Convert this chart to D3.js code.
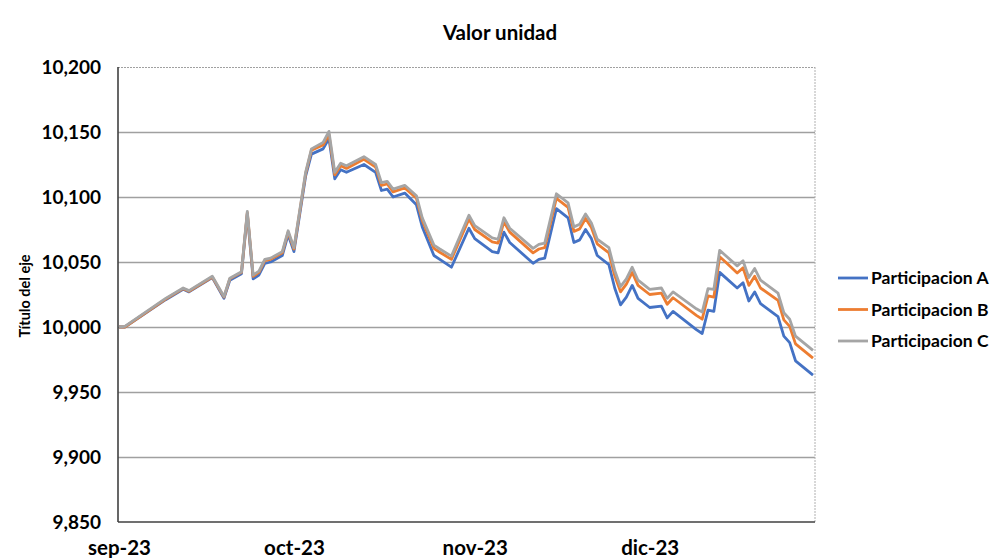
<!DOCTYPE html>
<html><head><meta charset="utf-8">
<script src="https://cdn.jsdelivr.net/npm/d3@7/dist/d3.min.js"></script>
<style>
html,body{margin:0;padding:0;background:#fff;}
svg text{font-family:Lato,"Open Sans",sans-serif;font-weight:700;fill:#000;}
</style></head>
<body>
<svg id="chart" width="991" height="558"></svg>
<script>
const dates = ["2023-09-01","2023-09-02","2023-09-09","2023-09-12","2023-09-13","2023-09-17","2023-09-19","2023-09-20","2023-09-22","2023-09-23",
"2023-09-24","2023-09-25","2023-09-26","2023-09-27","2023-09-29","2023-09-30","2023-10-01","2023-10-03","2023-10-04","2023-10-06",
"2023-10-07","2023-10-08","2023-10-09","2023-10-10","2023-10-13","2023-10-15","2023-10-16","2023-10-17","2023-10-18","2023-10-20",
"2023-10-22","2023-10-23","2023-10-25","2023-10-26","2023-10-28","2023-10-31","2023-11-01","2023-11-04","2023-11-05","2023-11-06",
"2023-11-07","2023-11-11","2023-11-12","2023-11-13","2023-11-15","2023-11-17","2023-11-18","2023-11-19","2023-11-20","2023-11-21",
"2023-11-22","2023-11-24","2023-11-25","2023-11-26","2023-11-27","2023-11-28","2023-11-29","2023-12-01","2023-12-03","2023-12-04",
"2023-12-05","2023-12-09","2023-12-10","2023-12-11","2023-12-12","2023-12-13","2023-12-14","2023-12-16","2023-12-17","2023-12-18",
"2023-12-19","2023-12-20","2023-12-23","2023-12-24","2023-12-25","2023-12-26","2023-12-29"];
const participacionA = [10000,10000,10021,10029,10027,10038,10022,10036,10041,10087,
10037,10040,10049,10050,10055,10071,10058,10116,10133,10137,
10145,10114,10121,10119,10125,10119,10105,10106,10100,10103,
10094,10077,10055,10052,10046,10076,10068,10058,10057,10073,
10065,10049,10052,10053,10091,10084,10065,10067,10075,10068,
10055,10048,10030,10017,10023,10032,10022,10015,10016,10007,
10012,9998,9995,10013,10012,10042,10038,10030,10034,10020,
10027,10018,10008,9993,9988,9974,9963];
const participacionB = [10000,10000,10021.5,10029.5,10027.5,10038.5,10023,10037,10042,10088,
10039,10042,10051,10052,10057,10073,10060,10118,10136,10140,
10148,10117,10124,10122,10129,10123,10109,10110,10104,10107,
10099,10082,10060.5,10057.5,10052,10083,10075,10065.5,10064.5,10081,
10073,10057,10060,10061,10099,10092,10073.5,10075.5,10083.5,10076.5,
10064,10057,10039.5,10027,10033,10042,10032,10025,10026,10017.5,
10022.5,10009,10006,10024,10023,10054,10050,10041.5,10045.5,10032,
10039,10030,10020.5,10005.5,10000.5,9987,9976];
const participacionC = [10000,10000.5,10022,10030,10028,10039,10023.5,10037.5,10042.5,10089,
10040,10043,10052,10053,10058,10074,10061,10119,10137,10142,
10150.5,10119,10126,10124,10131,10125,10111,10112,10106,10109,
10101,10084,10063,10060,10054.5,10086,10078,10068.5,10067.5,10084,
10076,10060.5,10063.5,10064.5,10102.5,10095.5,10077,10079,10087,10080,
10067.5,10061,10043.5,10031,10037,10046,10036,10029,10030,10022,
10027,10014,10011.5,10029.5,10029,10059,10055,10047,10051,10038,
10045,10036,10026,10011,10006,9993,9982];
const seriesNames = ["Participacion A","Participacion B","Participacion C"];
const seriesColors = ["#4472C4","#ED7D31","#A5A5A5"];
const yTicks = [9850,9900,9950,10000,10050,10100,10150,10200];
const monthTicks = ["2023-09-01","2023-10-01","2023-11-01","2023-12-01"];
const monthLabels = ["sep-23","oct-23","nov-23","dic-23"];
const title = "Valor unidad";
const yTitle = "Título del eje";

const parse = d3.timeParse("%Y-%m-%d");
const svg = d3.select("#chart");
const L = 118, R = 815, T = 67, B = 522;
const x = d3.scaleTime().domain([parse("2023-09-01"), parse("2023-12-29")]).range([119, 813]);
const y = d3.scaleLinear().domain([9850, 10200]).range([B, T]);

// gridlines
const yAxis = d3.axisLeft(y).tickValues(yTicks).tickSize(-(R - L)).tickFormat(d3.format(","));
const gy = svg.append("g").attr("transform", `translate(${L},0)`).call(yAxis);
gy.select(".domain").remove();
gy.selectAll(".tick line").attr("stroke", "#a0a0a0").attr("stroke-width", 1.4);
gy.selectAll(".tick").filter(d => d === 10200).select("line").attr("stroke-dasharray", "2,1").attr("stroke-width", 1);
gy.selectAll(".tick").filter(d => d === 9850).select("line").remove();
gy.selectAll(".tick text").attr("x", -17).attr("dy", "0.35em").style("font-size", "19px");

// right border dotted
svg.append("line").attr("x1", R).attr("x2", R).attr("y1", T).attr("y2", B)
  .attr("stroke", "#b0b0b0").attr("stroke-dasharray", "2,1").attr("stroke-width", 1);

// axes lines
svg.append("line").attr("x1", L).attr("x2", L).attr("y1", T).attr("y2", B).attr("stroke", "#404040").attr("stroke-width", 1.6);
svg.append("line").attr("x1", L).attr("x2", R).attr("y1", B).attr("y2", B).attr("stroke", "#404040").attr("stroke-width", 1.6);

// x axis labels
const xAxis = d3.axisBottom(x).tickValues(monthTicks.map(parse)).tickSize(0)
  .tickFormat((d, i) => monthLabels[i]);
const gx = svg.append("g").attr("transform", `translate(0,${B})`).call(xAxis);
gx.select(".domain").remove();
gx.selectAll(".tick text").attr("y", 18).attr("dy", "0.71em").style("font-size", "20.5px");

// lines
const allSeries = [participacionA, participacionB, participacionC];
const line = d3.line().x((d, i) => x(parse(dates[i]))).y(d => y(d));
allSeries.forEach((vals, k) => {
  svg.append("path").datum(vals).attr("d", line).attr("fill", "none")
    .attr("stroke", seriesColors[k]).attr("stroke-width", 2.8).attr("stroke-linejoin", "round");
});

// title
svg.append("text").attr("x", 500).attr("y", 33).attr("dy", "0.35em").attr("text-anchor", "middle")
  .style("font-size", "20.5px").text(title);
svg.append("text").attr("transform", "translate(25,296) rotate(-90)").attr("text-anchor", "middle")
  .attr("dy", "0.35em").style("font-size", "14.5px").text(yTitle);

// legend
const lg = svg.append("g");
seriesNames.forEach((n, k) => {
  const yy = 278 + k * 31.5;
  lg.append("line").attr("x1", 838).attr("x2", 868).attr("y1", yy).attr("y2", yy)
    .attr("stroke", seriesColors[k]).attr("stroke-width", 2.8);
  lg.append("text").attr("x", 871).attr("y", yy).attr("dy", "0.35em").style("font-size", "17.5px").text(n);
});
</script>
</body></html>
